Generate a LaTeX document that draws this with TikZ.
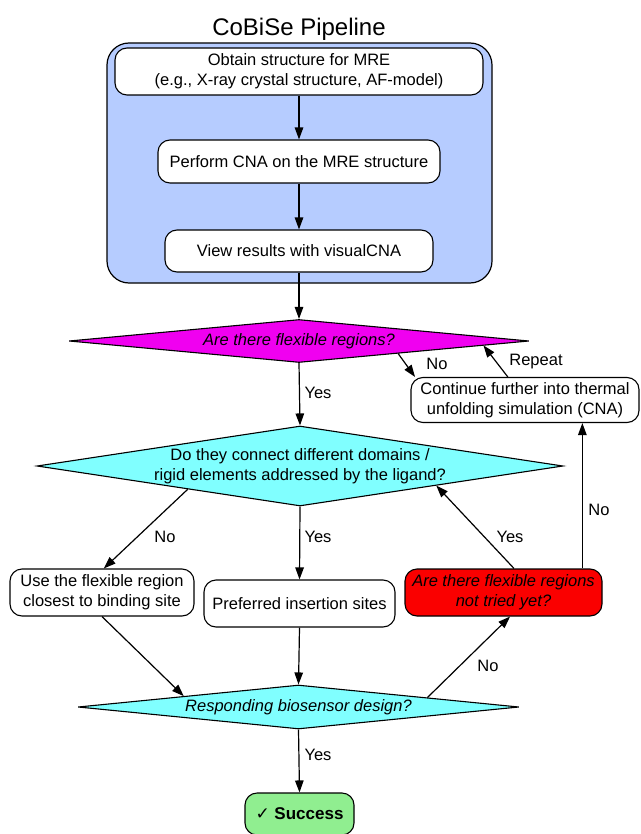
\documentclass[tikz,border=0pt]{standalone}
\usepackage{fontspec}
\setmainfont{Liberation Sans}
\newfontfamily\dejavu{DejaVu Sans}
\usetikzlibrary{shapes.geometric,arrows.meta,calc}
\definecolor{contblue}{RGB}{182,204,255}
\definecolor{magfill}{RGB}{240,0,240}
\definecolor{cyanfill}{RGB}{128,255,255}
\definecolor{redfill}{RGB}{250,0,0}
\definecolor{greenfill}{RGB}{144,238,144}
\newcommand{\bodyf}{\fontsize{16.5}{20}\selectfont}
\tikzset{
  stepbox/.style={draw, rounded corners=12pt, fill=white, line width=1.1pt, align=center, inner sep=0pt, font=\bodyf},
  decis/.style={draw, diamond, line width=1.1pt, inner sep=0pt},
  qtext/.style={align=center, inner sep=0pt, font=\bodyf\itshape},
  dtext/.style={align=center, inner sep=0pt, font=\bodyf},
  lbl/.style={inner sep=0pt, font=\bodyf},
  conn/.style={line width=1.2pt, -{Triangle[length=12pt,width=8.5pt]}},
  plainline/.style={line width=1.2pt}
}
\begin{document}
\begin{tikzpicture}[x=1pt,y=-1pt]
\useasboundingbox (0,0) rectangle (640,834);
% title
\node[inner sep=0pt, anchor=base, font=\fontsize{24}{28}\selectfont] (title) at (299,36) {CoBiSe Pipeline};
% container
\node[draw, line width=1.2pt, fill=contblue, rounded corners=22pt, minimum width=385pt, minimum height=240pt, inner sep=0pt] (cont0) at (299.5,163) {};
% boxes in container
\node[stepbox, minimum width=368pt, minimum height=47pt] (b1) at (299,71.5) {Obtain structure for MRE\\(e.g., X-ray crystal structure, AF-model)};
\node[stepbox, minimum width=282pt, minimum height=43pt] (b2) at (299,161.5) {Perform CNA on the MRE structure};
\node[stepbox, minimum width=268pt, minimum height=42pt] (b3) at (299,251) {View results with visualCNA};
% first decision
\node[decis, fill=magfill, minimum width=460pt, minimum height=43pt] (d0) at (299,341) {};
\node[qtext] (d0t) at (d0.center) {Are there flexible regions?};
% continue box
\node[stepbox, minimum width=228pt, minimum height=45pt] (cnt) at (525,400) {Continue further into thermal\\unfolding simulation (CNA)};
% second decision
\node[decis, fill=cyanfill, minimum width=526pt, minimum height=80pt] (d1) at (300,466) {};
\node[dtext] (d1t) at (d1.center) {Do they connect different domains /\\rigid elements addressed by the ligand?};
% row of boxes
\node[stepbox, minimum width=184pt, minimum height=47pt] (lb) at (102,592.5) {Use the flexible region\\closest to binding site};
\node[stepbox, minimum width=191pt, minimum height=47pt] (mb) at (299.5,603.5) {Preferred insertion sites};
\node[stepbox, fill=redfill, font=\bodyf\itshape, minimum width=197pt, minimum height=47pt] (rb) at (503.5,592.5) {Are there flexible regions\\not tried yet?};
% third decision
\node[decis, fill=cyanfill, minimum width=441pt, minimum height=44pt] (d2) at (298.5,707) {};
\node[qtext] (d2t) at (d2.center) {Responding biosensor design?};
% success
\node[stepbox, fill=greenfill, font=\fontsize{17}{20}\selectfont\bfseries, minimum width=109pt, minimum height=42pt] (succ) at (299.5,814) {{\dejavu\mdseries ✓} Success};

% connectors
\draw[conn] (b1.south) -- (b2.north);
\draw[conn] (b2.south) -- (b3.north);
\draw[conn] (b3.south) -- (d0.north);
\draw[conn] (d0.south) -- (d1.north);
\draw[conn] ($(d0.south)!0.43!(d0.east)$) -- ($(cnt.north west)!0.02!(cnt.north east)$);
\draw[conn] ($(cnt.north west)!0.425!(cnt.north east)$) -- ($(d0.south)!0.80!(d0.east)$);
\draw[conn] (d1.south) -- (mb.north);
\draw[conn] ($(d1.south)!0.426!(d1.west)$) -- ($(lb.north west)!0.51!(lb.north east)$);
\draw[conn] ($(rb.north west)!0.553!(rb.north east)$) -- ($(d1.south)!0.517!(d1.east)$);
\coordinate (rn) at ($(rb.north west)!0.898!(rb.north east)$);
\draw[conn] (rn) -- (rn |- cnt.south);
\draw[conn] ($(lb.south west)!0.5!(lb.south east)$) -- ($(d2.north)!0.519!(d2.west)$);
\draw[conn] (mb.south) -- (d2.north);
\draw[conn] ($(d2.north)!0.583!(d2.east)$) -- ($(rb.south west)!0.533!(rb.south east)$);
\draw[conn] (d2.south) -- (succ.north);

% labels
\node[lbl] (l1) at (318,393) {Yes};
\node[lbl] (l2) at (437,364) {No};
\node[lbl] (l3) at (536,362) {Repeat};
\node[lbl] (l4) at (165,537) {No};
\node[lbl] (l5) at (318,537) {Yes};
\node[lbl] (l6) at (510,537) {Yes};
\node[lbl] (l7) at (599,510) {No};
\node[lbl] (l8) at (488,666) {No};
\node[lbl] (l9) at (318,755) {Yes};
\end{tikzpicture}
\end{document}
